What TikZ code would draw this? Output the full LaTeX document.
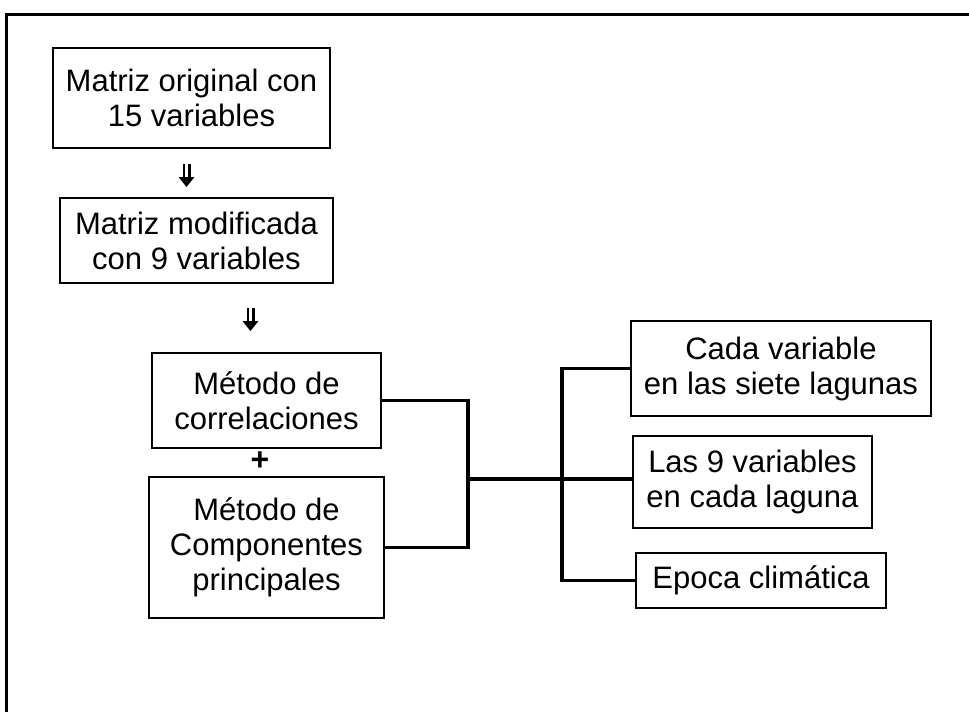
\documentclass[tikz,border=0pt]{standalone}
\usepackage{fontspec}
\setmainfont{Liberation Sans}
\begin{document}
\begin{tikzpicture}[x=1pt,y=-1pt,
  box/.style={draw=black, line width=1.6pt, inner sep=0pt, align=center,
    font=\fontsize{31}{35}\selectfont},
  conn/.style={draw=black, line width=3.4pt, line join=miter},
  frame/.style={draw=black, line width=3pt},
  dblarrow/.pic={
    \fill[black] (-4,-12) rectangle (-1.3,2);
    \fill[black] (1.3,-12) rectangle (4,2);
    \fill[black] (-8,1) -- (8,1) -- (0,11) -- cycle;
  }]
\useasboundingbox (0,0) rectangle (969,712);
\draw[frame] (969,14) -- (6,14) -- (6,712);

\node[box, minimum width=277, minimum height=100] (b1) at (191.5,98) {Matriz original con\\15 variables};
\node[box, minimum width=273, minimum height=85] (b2) at (196.5,240.5) {Matriz modificada\\con 9 variables};
\node[box, minimum width=229, minimum height=95] (b3) at (266.5,400.5) {Método de\\correlaciones};
\node[box, minimum width=235, minimum height=141] (b4) at (266.5,547.5) {Método de\\Componentes\\principales};
\node[box, minimum width=300, minimum height=95] (b5) at (781,368.5) {Cada variable\\en las siete lagunas};
\node[box, minimum width=239, minimum height=92] (b6) at (752.5,482) {Las 9 variables\\en cada laguna};
\node[box, minimum width=250, minimum height=55] (b7) at (761,580.5) {Epoca climática};

\node[font=\fontsize{32}{32}\selectfont\bfseries, inner sep=0pt] (plus) at (260,461) {+};

\pic at (186.5,176) {dblarrow};
\pic at (250.5,320) {dblarrow};

\coordinate (j1) at (468,479);
\coordinate (t) at (562,479);
\draw[conn] (b3.east) -| (j1) |- (b4.east);
\draw[conn] (j1) -- (j1 -| b6.west);
\draw[conn] (b5.west) -| (t) |- (b7.west);
\end{tikzpicture}
\end{document}
